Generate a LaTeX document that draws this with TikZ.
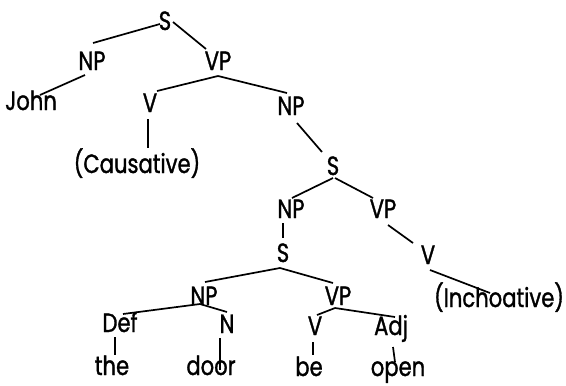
\documentclass[tikz,border=0pt]{standalone}
\usepackage{fontspec}
\setmainfont{Poppins}[FakeStretch=0.8, FakeBold=1.2]
\newcommand\lbl{\fontsize{26.5}{31}\selectfont}
% branch from one label to another, each end given as an offset from the label's base point
\newcommand\branch[6]{\draw ([shift={(#2,#3)}]#1.base) -- ([shift={(#5,#6)}]#4.base);}
\begin{document}
\begin{tikzpicture}[x=1bp, y=-1bp,
  treelabel/.style={anchor=base, inner sep=0pt, font=\lbl},
  every path/.style={line width=1.7bp, black}]
\useasboundingbox (0,0) rectangle (566,385);

% labels
\node[treelabel] (s1)   at (165,30)  {S};
\node[treelabel] (np1)  at (92,70)   {NP};
\node[treelabel] (vp1)  at (218,70)  {VP};
\node[treelabel] (john) at (31,110)  {John};
\node[treelabel] (v1)   at (150,112) {V};
\node[treelabel] (np2)  at (291,115) {NP};
\node[treelabel] (caus) at (137,173) {(Causative)};
\node[treelabel] (s2)   at (333,175) {S};
\node[treelabel] (np3)  at (291,218) {NP};
\node[treelabel] (vp2)  at (383,218) {VP};
\node[treelabel] (s3)   at (283,262) {S};
\node[treelabel] (v2)   at (428,264) {V};
\node[treelabel] (np4)  at (204,305) {NP};
\node[treelabel] (vp3)  at (338,305) {VP};
\node[treelabel] (inch) at (499,307) {(Inchoative)};
\node[treelabel] (def)  at (120,332) {Def};
\node[treelabel] (n)    at (227,333) {N};
\node[treelabel] (v3)   at (315,335) {V};
\node[treelabel] (adj)  at (391,335) {Adj};
\node[treelabel] (the)  at (112,375) {the};
\node[treelabel] (door) at (211,375) {door};
\node[treelabel] (be)   at (309,376) {be};
\node[treelabel] (open) at (398,376) {open};

% branches
\branch{s1}{-5}{-6}{np1}{1}{-27}
\branch{s1}{8}{-8}{vp1}{-12}{-21}
\branch{np1}{-7}{5}{john}{9}{-15}
\branch{vp1}{0}{6}{v1}{7}{-21}
\branch{vp1}{0}{6}{np2}{-4}{-22}
\branch{v1}{-2}{7}{caus}{11}{-25}
\branch{np2}{6}{8}{s2}{-11}{-23}
\branch{s2}{0}{3}{np3}{1}{-20}
\branch{s2}{2}{3}{vp2}{-10}{-20}
\branch{vp2}{5}{7}{v2}{-15}{-21}
\branch{np3}{-8}{5}{s3}{0}{-24}
\branch{s3}{-3}{6}{np4}{1}{-23}
\branch{s3}{-3}{6}{vp3}{-5}{-22}
\branch{v2}{2}{6}{inch}{-9}{-14}
\branch{np4}{-4}{-1}{def}{3}{-18}
\branch{np4}{-4}{-1}{n}{0}{-21}
\branch{vp3}{-3}{3}{v3}{2}{-20}
\branch{vp3}{-3}{3}{adj}{4}{-18}
\branch{def}{-5}{5}{the}{3}{-20}
\branch{n}{-7}{5}{door}{9}{-5}
\branch{v3}{-2}{7}{be}{4}{-21}
\branch{adj}{2}{12}{open}{-3}{-14}
\end{tikzpicture}
\end{document}
